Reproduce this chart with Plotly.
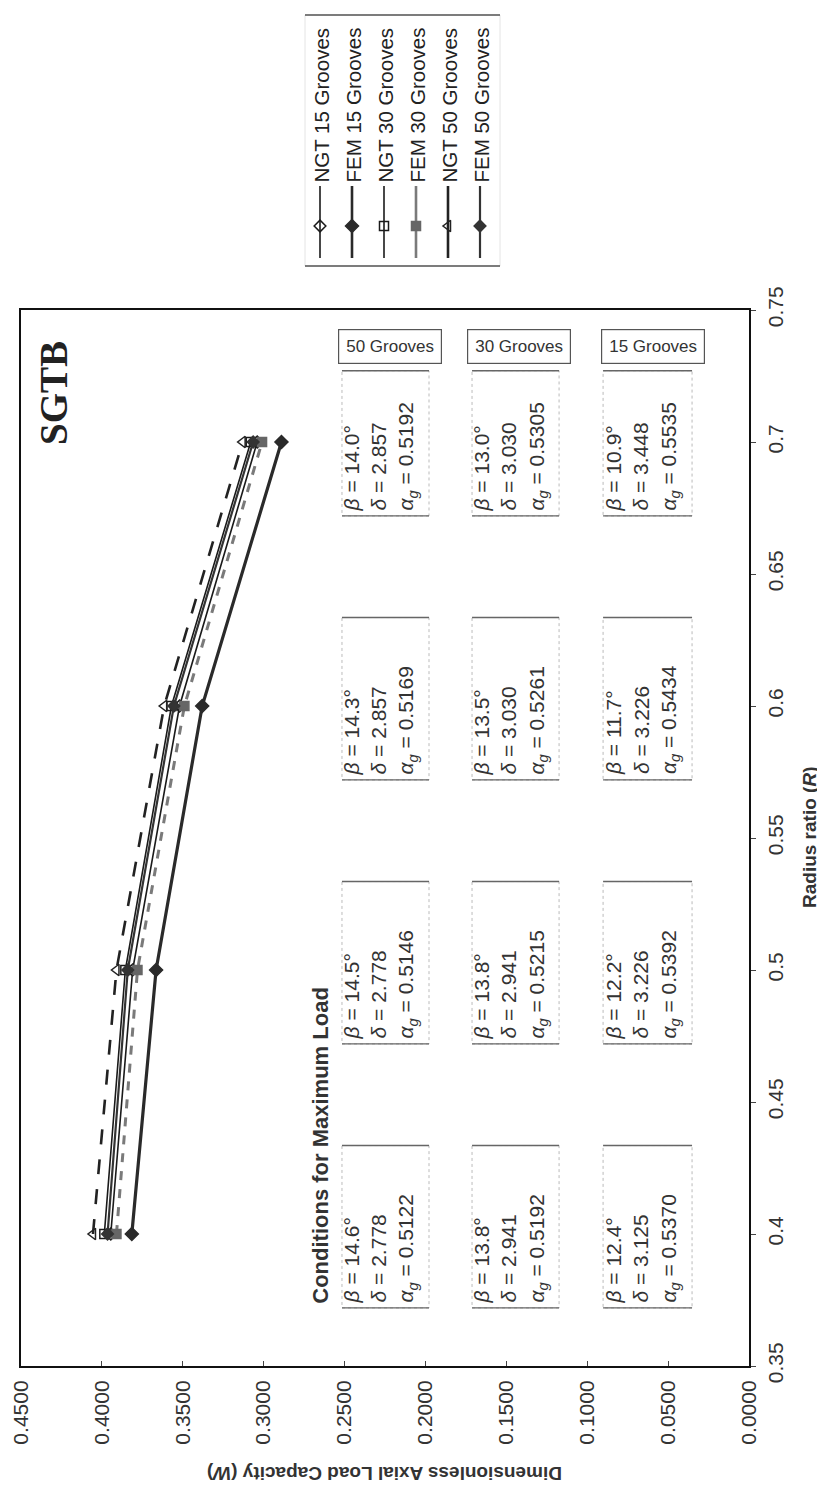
import plotly.graph_objects as go

# ---------------- data ----------------
radius_ratio = [0.4, 0.5, 0.6, 0.7]

ngt_15 = [0.3945, 0.3810, 0.3520, 0.3040]
fem_15 = [0.3815, 0.3665, 0.3380, 0.2890]
ngt_30 = [0.3985, 0.3855, 0.3570, 0.3080]
fem_30 = [0.3910, 0.3780, 0.3490, 0.3010]
ngt_50 = [0.4055, 0.3910, 0.3615, 0.3130]
fem_50 = [0.3965, 0.3840, 0.3555, 0.3065]

series_names = ["NGT 15 Grooves", "FEM 15 Grooves", "NGT 30 Grooves",
                "FEM 30 Grooves", "NGT 50 Grooves", "FEM 50 Grooves"]

w_tick_values = [0.0, 0.05, 0.10, 0.15, 0.20, 0.25, 0.30, 0.35, 0.40, 0.45]
w_tick_labels = ["0.0000", "0.0500", "0.1000", "0.1500", "0.2000",
                 "0.2500", "0.3000", "0.3500", "0.4000", "0.4500"]
r_tick_values = [0.35, 0.40, 0.45, 0.50, 0.55, 0.60, 0.65, 0.70, 0.75]
r_tick_labels = ["0.35", "0.4", "0.45", "0.5", "0.55", "0.6", "0.65", "0.7", "0.75"]

groove_groups = ["50 Grooves", "30 Grooves", "15 Grooves"]
beta_50 = [14.6, 14.5, 14.3, 14.0]
delta_50 = ["2.778", "2.778", "2.857", "2.857"]
alpha_50 = ["0.5122", "0.5146", "0.5169", "0.5192"]
beta_30 = [13.8, 13.8, 13.5, 13.0]
delta_30 = ["2.941", "2.941", "3.030", "3.030"]
alpha_30 = ["0.5192", "0.5215", "0.5261", "0.5305"]
beta_15 = [12.4, 12.2, 11.7, 10.9]
delta_15 = ["3.125", "3.226", "3.226", "3.448"]
alpha_15 = ["0.5370", "0.5392", "0.5434", "0.5535"]

# ---------------- styles ----------------
FW, FH = 825, 1492
PX_L, PX_R, PX_T, PX_B = 13, 741, 302, 1358
FONT = "Liberation Sans, Arial, sans-serif"
NARROW = "Liberation Sans Narrow, Arial Narrow, Liberation Sans, sans-serif"

styles = [
    dict(color="#1a1a1a", width=1.6, dash="solid", symbol="diamond-open", msize=9, mcolor="#1a1a1a"),
    dict(color="#2a2a2a", width=3.2, dash="solid", symbol="diamond", msize=10, mcolor="#2a2a2a"),
    dict(color="#1a1a1a", width=1.6, dash="solid", symbol="square-open", msize=9, mcolor="#1a1a1a"),
    dict(color="#7a7a7a", width=3.0, dash="dash", symbol="square", msize=9, mcolor="#666666"),
    dict(color="#222222", width=2.6, dash="longdash", symbol="triangle-left-open", msize=10, mcolor="#222222"),
    dict(color="#333333", width=2.2, dash="solid", symbol="diamond", msize=9, mcolor="#333333"),
]
series_values = [ngt_15, fem_15, ngt_30, fem_30, ngt_50, fem_50]

fig = go.Figure()

# main data traces: W on the horizontal axis, R on the vertical axis (rotated page)
for name, vals, st in zip(series_names, series_values, styles):
    fig.add_trace(go.Scatter(
        x=vals, y=radius_ratio, mode="lines+markers", name=name, showlegend=False,
        line=dict(color=st["color"], width=st["width"], dash=st["dash"]),
        marker=dict(symbol=st["symbol"], size=st["msize"], color=st["mcolor"],
                    line=dict(color=st["mcolor"], width=1.5)),
        xaxis="x", yaxis="y"))

# ---------------- legend (drawn rotated, in page-pixel overlay axes) ----------------
leg_x0, leg_dx = 312, 32.0
leg_line_top, leg_line_bot, leg_marker_y, leg_text_y = 178, 250, 218, 177
for i, (name, st) in enumerate(zip(series_names, styles)):
    lx = leg_x0 + i * leg_dx
    fig.add_trace(go.Scatter(
        x=[lx, lx], y=[leg_line_bot, leg_line_top], mode="lines", showlegend=False,
        line=dict(color=st["color"], width=min(st["width"], 2.6)),
        xaxis="x2", yaxis="y2", hoverinfo="skip"))
    fig.add_trace(go.Scatter(
        x=[lx], y=[leg_marker_y], mode="markers", showlegend=False,
        marker=dict(symbol=st["symbol"], size=st["msize"], color=st["mcolor"],
                    line=dict(color=st["mcolor"], width=1.5)),
        xaxis="x2", yaxis="y2", hoverinfo="skip"))
    fig.add_annotation(x=lx + 1, y=leg_text_y, xref="x2", yref="y2", text=name,
                       textangle=-90, showarrow=False, xanchor="center", yanchor="bottom",
                       font=dict(family=FONT, size=20.5, color="#222"))

shapes = []
# legend frame
shapes.append(dict(type="rect", xref="x2", yref="y2", x0=297, x1=492, y0=7, y1=258,
                   line=dict(color="#e4e4e4", width=1)))
shapes.append(dict(type="line", xref="x2", yref="y2", x0=297, x1=492, y0=7, y1=7,
                   line=dict(color="#555", width=1.5)))
shapes.append(dict(type="line", xref="x2", yref="y2", x0=297, x1=492, y0=258, y1=258,
                   line=dict(color="#555", width=1.5)))

# ---------------- condition boxes (in data coordinates) ----------------
row_w_ranges = [(0.1978, 0.2516), (0.1174, 0.1712), (0.0352, 0.0902)]
header_w_centers = [0.2222, 0.1424, 0.0595]
col_lo = -0.028
col_hi = [0.0335, 0.0335, 0.0335, 0.027]
groups = [(beta_50, delta_50, alpha_50), (beta_30, delta_30, alpha_30), (beta_15, delta_15, alpha_15)]

for (w0, w1), (betas, deltas, alphas) in zip(row_w_ranges, groups):
    for r, hi, b, d, a in zip(radius_ratio, col_hi, betas, deltas, alphas):
        r0, r1 = r + col_lo, r + hi
        shapes.append(dict(type="rect", xref="x", yref="y", x0=w0, x1=w1, y0=r0, y1=r1,
                           line=dict(color="#bbbbbb", width=1, dash="dot")))
        for rr in (r0, r1):
            shapes.append(dict(type="line", xref="x", yref="y", x0=w0, x1=w1, y0=rr, y1=rr,
                               line=dict(color="#666", width=1.4)))
        txt = (f"<i>β</i> = {b:.1f}°<br><i>δ</i> = {d}<br>"
               f"<i>α</i><sub><i>g</i></sub> = {a}")
        fig.add_annotation(x=(w0 + w1) / 2 + 0.003, y=r0 + 0.001, xref="x", yref="y", text=txt,
                           textangle=-90, showarrow=False, align="left",
                           xanchor="center", yanchor="bottom",
                           font=dict(family=FONT, size=21, color="#333"))

for label, wc in zip(groove_groups, header_w_centers):
    fig.add_annotation(x=wc, y=0.7362, xref="x", yref="y", text=label, showarrow=False,
                       xanchor="center", yanchor="middle",
                       bordercolor="#555", borderwidth=1.2, borderpad=7,
                       font=dict(family=NARROW, size=17, color="#333"))

fig.add_annotation(x=0.2646, y=0.373, xref="x", yref="y", text="<b>Conditions for Maximum Load</b>",
                   textangle=-90, showarrow=False, xanchor="center", yanchor="bottom",
                   font=dict(family=FONT, size=22, color="#333"))

# SGTB title
fig.add_annotation(x=45, y=385, xref="x2", yref="y2", text="<b>SGTB</b>", textangle=-90,
                   showarrow=False, xanchor="center", yanchor="middle",
                   font=dict(family="Liberation Serif, Times New Roman, serif", size=39, color="#222"))

# axis titles (rotated page)
fig.add_annotation(x=801, y=(PX_T + PX_B) / 2, xref="x2", yref="y2",
                   text="<b>Radius ratio (</b><b><i>R</i></b><b>)</b>", textangle=-90,
                   showarrow=False, xanchor="center", yanchor="middle",
                   font=dict(family=FONT, size=19, color="#333"))
fig.add_annotation(x=(PX_L + PX_R) / 2, y=1466, xref="x2", yref="y2",
                   text="<b>Dimensionless Axial Load Capacity (</b><b><i>W</i></b><b>)</b>",
                   textangle=180, showarrow=False, xanchor="center", yanchor="middle",
                   font=dict(family=FONT, size=19, color="#333"))

fig.update_layout(
    width=FW, height=FH, autosize=False,
    margin=dict(l=0, r=0, t=0, b=0),
    paper_bgcolor="white", plot_bgcolor="rgba(0,0,0,0)",
    shapes=shapes,
    xaxis=dict(domain=[PX_L / FW, PX_R / FW], range=[0.45, 0.0], anchor="y",
               tickvals=w_tick_values, ticktext=w_tick_labels, tickangle=-90,
               ticks="inside", ticklen=5, tickcolor="#444",
               showline=True, linecolor="#111", linewidth=2, mirror=True,
               showgrid=False, zeroline=False, automargin=False, ticklabelstandoff=4,
               tickfont=dict(family=FONT, size=21, color="#333")),
    yaxis=dict(domain=[1 - PX_B / FH, 1 - PX_T / FH], range=[0.35, 0.75], anchor="x",
               side="right", tickvals=r_tick_values, ticktext=r_tick_labels, tickangle=-90,
               ticks="outside", ticklen=5, tickcolor="#444",
               showline=True, linecolor="#111", linewidth=2, mirror=True,
               showgrid=False, zeroline=False, automargin=False, ticklabelstandoff=2,
               tickfont=dict(family=FONT, size=21, color="#333")),
    xaxis2=dict(domain=[0, 1], range=[0, FW], anchor="y2", visible=False, fixedrange=True),
    yaxis2=dict(domain=[0, 1], range=[FH, 0], anchor="x2", visible=False, fixedrange=True),
)

fig.write_html("out.html")
